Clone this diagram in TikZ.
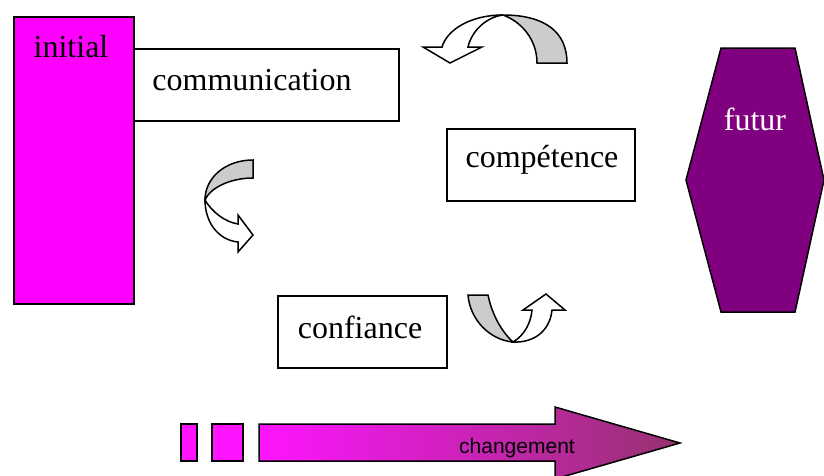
\documentclass[tikz,border=0pt]{standalone}
\usepackage{fontspec}
\setmainfont{Liberation Serif}
\setsansfont{Liberation Sans}
\definecolor{initialfill}{RGB}{255,0,255}
\definecolor{futurfill}{RGB}{128,0,128}
\definecolor{backfill}{RGB}{204,204,204}
\definecolor{changeleft}{RGB}{255,20,255}
\definecolor{changeright}{RGB}{150,50,110}
\begin{document}
\begin{tikzpicture}[x=1pt,y=-1pt,line width=1.5pt,
        box/.style={draw,fill=white,inner sep=0pt,anchor=north west},
        word/.style={font=\fontsize{32}{36}\selectfont,inner sep=0pt}]
                \useasboundingbox (0,0) rectangle (824,475);
                \clip (0,0) rectangle (824,475);
                \node[box,fill=initialfill,minimum width=120pt,minimum height=287pt] (initial) at (13,16) {};
                \node[box,minimum width=265pt,minimum height=72pt] (communication) at (133,48) {};
                \node[box,minimum width=188pt,minimum height=72pt] (competence) at (446,128) {};
                \node[box,minimum width=169pt,minimum height=72pt] (confiance) at (277,295) {};
                \node[word] (initialtext) at (71,47) {initial};
                \node[word] (communicationtext) at (252,80) {communication};
                \node[word] (competencetext) at (542,160) {compétence};
                \node[word] (confiancetext) at (360,327) {confiance};
                \draw[fill=futurfill] (721,48) -- (795,48) -- (824,180) -- (795,312) -- (721,312) -- (686,180) -- cycle;
                \node[word,text=white] (futur) at (755,119) {futur};
                % curved arrows
                \draw[fill=backfill] (537,63) -- (567,63) .. controls (567,32) and (545,15) .. (503,15) .. controls (522,22) and (537,40) .. (537,63) -- cycle;
                \draw[fill=white] (503,15) .. controls (470,15) and (447,30) .. (442,47) -- (423,47) -- (450,63) -- (482,47) -- (468,47) .. controls (472,30) and (487,17) .. (503,15) -- cycle;
                \draw[fill=backfill] (253,160) -- (253,178) .. controls (230,178) and (210,188) .. (205,200) .. controls (205,178) and (225,160) .. (253,160) -- cycle;
                \draw[fill=white] (205,200) .. controls (212,212) and (225,222) .. (238,224) -- (238,215) -- (253,235) -- (238,252) -- (238,242) .. controls (218,240) and (205,222) .. (205,200) -- cycle;
                \draw[fill=backfill] (468,295) -- (488,295) .. controls (492,315) and (502,332) .. (513,342) .. controls (490,340) and (470,320) .. (468,295) -- cycle;
                \draw[fill=white] (513,342) .. controls (525,335) and (531,322) .. (532,310) -- (523,310) -- (546,294) -- (565,310) -- (552,310) .. controls (550,330) and (535,343) .. (513,342) -- cycle;
                % changement
                \foreach \x/\w in {181/16,212/31}{
                        \draw[fill=changeleft] (\x,424) rectangle (\x+\w,461);
                    }
                \shadedraw[left color=changeleft,right color=changeright] (259,424) -- (555,424) -- (555,407) -- (680,443) -- (555,479) -- (555,461) -- (259,461) -- cycle;
                \node[font=\sffamily\fontsize{21}{24}\selectfont,inner sep=0pt] (changement) at (517,448) {changement};
            \end{tikzpicture}
\end{document}
